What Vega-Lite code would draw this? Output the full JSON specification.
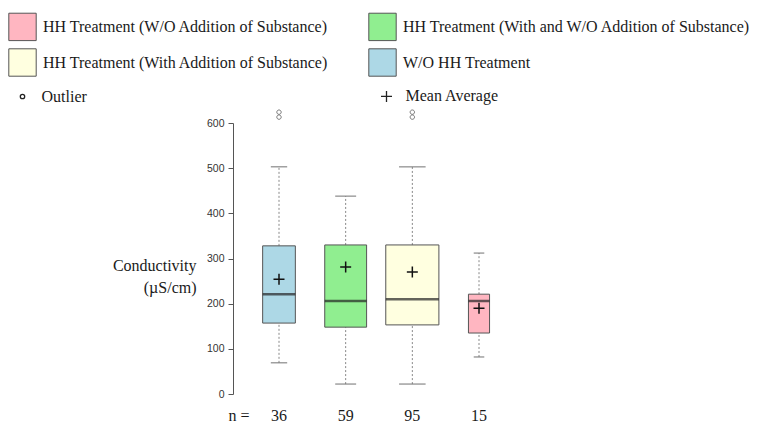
{
  "$schema": "https://vega.github.io/schema/vega-lite/v6.json",
  "width": 292,
  "height": 271,
  "autosize": {"type": "none"},
  "padding": {"left": 233, "top": 123, "right": 232, "bottom": 32},
  "background": "white",
  "config": {
    "view": {"stroke": null},
    "font": "Liberation Serif"
  },
  "datasets": {
    "boxes": [
      {"group": "W/O HH Treatment", "n": 36, "min": 69, "q1": 157, "median": 221, "q3": 328, "max": 503, "mean": 254},
      {"group": "HH Treatment (With and W/O Addition of Substance)", "n": 59, "min": 22, "q1": 148, "median": 206, "q3": 330, "max": 438, "mean": 281},
      {"group": "HH Treatment (With Addition of Substance)", "n": 95, "min": 22, "q1": 153, "median": 210, "q3": 330, "max": 503, "mean": 270},
      {"group": "HH Treatment (W/O Addition of Substance)", "n": 15, "min": 82, "q1": 135, "median": 206, "q3": 221, "max": 312, "mean": 190}
    ],
    "outliers": [
      {"n": 36, "value": 613},
      {"n": 36, "value": 624},
      {"n": 95, "value": 613},
      {"n": 95, "value": 624}
    ]
  },
  "encoding": {
    "x": {
      "field": "n",
      "type": "ordinal",
      "sort": [36, 59, 95, 15],
      "scale": {"type": "band", "paddingInner": 0, "paddingOuter": 0.19},
      "axis": {
        "title": "n =",
        "domain": false,
        "ticks": false,
        "labelAngle": 0,
        "labelFont": "Liberation Serif",
        "labelFontSize": 16,
        "labelColor": "#1a1a1a",
        "labelBaseline": "alphabetic",
        "labelPadding": 26,
        "titleFont": "Liberation Serif",
        "titleFontSize": 16,
        "titleFontWeight": "normal",
        "titleColor": "#1a1a1a",
        "titleX": 5.5,
        "titleY": 26,
        "titleAlign": "center",
        "titleBaseline": "alphabetic"
      }
    }
  },
  "layer": [
    {
      "data": {"name": "boxes"},
      "mark": {"type": "rule", "strokeDash": [2, 2], "color": "#888", "strokeWidth": 1},
      "encoding": {
        "y": {
          "field": "min",
          "type": "quantitative",
          "scale": {"domain": [0, 600], "nice": false, "zero": false},
          "axis": {
            "values": [0, 100, 200, 300, 400, 500, 600],
            "grid": false,
            "domainColor": "#555",
            "tickColor": "#555",
            "tickSize": 5,
            "labelFont": "Liberation Sans",
            "labelFontSize": 10.5,
            "labelColor": "#333",
            "labelPadding": 4,
            "title": ["Conductivity", "(µS/cm)"],
            "titleAngle": 0,
            "titleAlign": "right",
            "titleBaseline": "middle",
            "titleX": -37,
            "titleY": 142,
            "titleFont": "Liberation Serif",
            "titleFontSize": 16,
            "titleFontWeight": "normal",
            "titleColor": "#1a1a1a",
            "titleLineHeight": 22
          }
        },
        "y2": {"field": "q1"}
      }
    },
    {
      "data": {"name": "boxes"},
      "mark": {"type": "rule", "strokeDash": [2, 2], "color": "#888", "strokeWidth": 1},
      "encoding": {
        "y": {"field": "q3", "type": "quantitative"},
        "y2": {"field": "max"}
      }
    },
    {
      "data": {"name": "boxes"},
      "mark": {"type": "tick", "color": "#777", "thickness": 1.5},
      "encoding": {
        "y": {"field": "min", "type": "quantitative"},
        "size": {"field": "n", "type": "quantitative", "scale": {"type": "sqrt", "domain": [0, 100], "range": [0, 27.25]}, "legend": null}
      }
    },
    {
      "data": {"name": "boxes"},
      "mark": {"type": "tick", "color": "#777", "thickness": 1.5},
      "encoding": {
        "y": {"field": "max", "type": "quantitative"},
        "size": {"field": "n", "type": "quantitative", "scale": {"type": "sqrt", "domain": [0, 100], "range": [0, 27.25]}, "legend": null}
      }
    },
    {
      "data": {"name": "boxes"},
      "mark": {"type": "bar", "stroke": "#555", "strokeWidth": 1},
      "encoding": {
        "y": {"field": "q1", "type": "quantitative"},
        "y2": {"field": "q3"},
        "size": {"field": "n", "type": "quantitative", "scale": {"type": "sqrt", "domain": [0, 100], "range": [0, 54.5]}, "legend": null},
        "color": {
          "field": "group",
          "type": "nominal",
          "scale": {
            "domain": ["HH Treatment (W/O Addition of Substance)", "HH Treatment (With Addition of Substance)", "HH Treatment (With and W/O Addition of Substance)", "W/O HH Treatment"],
            "range": ["#FFB6C1", "#FFFFE0", "#90EE90", "#ADD8E6"]
          },
          "legend": {
            "orient": "none",
            "legendX": -225,
            "legendY": -111,
            "title": null,
            "columns": 2,
            "columnPadding": 37,
            "rowPadding": 3,
            "padding": 0,
            "symbolType": "square",
            "symbolSize": 750,
            "symbolStrokeColor": "#555",
            "symbolStrokeWidth": 1,
            "labelFont": "Liberation Serif",
            "labelFontSize": 16,
            "labelColor": "#1a1a1a",
            "labelOffset": 6,
            "labelLimit": 400
          }
        }
      }
    },
    {
      "data": {"name": "boxes"},
      "mark": {"type": "tick", "color": "#222", "thickness": 2.5},
      "encoding": {
        "y": {"field": "median", "type": "quantitative"},
        "size": {"field": "n", "type": "quantitative", "scale": {"type": "sqrt", "domain": [0, 100], "range": [0, 54.5]}, "legend": null}
      }
    },
    {
      "data": {"name": "boxes"},
      "mark": {"type": "point", "filled": false, "stroke": "#111", "strokeWidth": 1.5, "size": 121, "opacity": 1},
      "encoding": {
        "y": {"field": "mean", "type": "quantitative"},
        "shape": {
          "datum": "Mean Average",
          "type": "nominal",
          "scale": {
            "domain": ["Outlier", "Mean Average"],
            "range": ["M-0.4,0A0.4,0.4,0,1,1,0.4,0A0.4,0.4,0,1,1,-0.4,0Z", "M-1,0H1M0,-1V1"]
          },
          "legend": {
            "orient": "none",
            "legendX": -218.5,
            "legendY": -35,
            "title": null,
            "columns": 2,
            "columnPadding": 290,
            "padding": 0,
            "symbolSize": 121,
            "symbolStrokeColor": "#222",
            "symbolStrokeWidth": 1.3,
            "symbolFillColor": "transparent",
            "labelFont": "Liberation Serif",
            "labelFontSize": 16,
            "labelColor": "#1a1a1a",
            "labelOffset": 11,
            "labelLimit": 400
          }
        }
      }
    },
    {
      "data": {"name": "outliers"},
      "mark": {"type": "point", "filled": false, "stroke": "#777", "strokeWidth": 1, "size": 121, "opacity": 1, "clip": false},
      "encoding": {
        "y": {"field": "value", "type": "quantitative"},
        "shape": {"datum": "Outlier", "type": "nominal"}
      }
    }
  ],
  "resolve": {"scale": {"size": "independent"}}
}
